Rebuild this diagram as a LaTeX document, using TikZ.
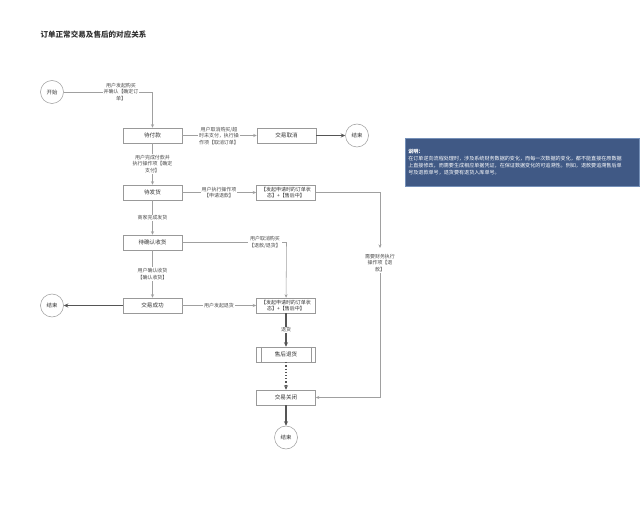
\documentclass[tikz,border=0pt]{standalone}
\usepackage{fontspec}
\newfontfamily\cjk{Noto Sans CJK SC}
\usetikzlibrary{arrows.meta}
\definecolor{linegray}{HTML}{A0A0A0}
\definecolor{darkline}{HTML}{555555}
\definecolor{boxline}{HTML}{999999}
\definecolor{txt}{HTML}{333333}
\definecolor{lbltxt}{HTML}{4A4A4A}
\definecolor{notebg}{HTML}{405985}
\definecolor{noteborder}{HTML}{7590B8}
\begin{document}
\begin{tikzpicture}[x=1bp,y=-1bp,
  every node/.style={font=\cjk, text=txt},
  box/.style={draw=boxline, line width=0.5bp, fill=white, minimum width=59bp, minimum height=15bp, inner sep=0.5bp, align=center, font=\cjk\fontsize{5.6}{6.5}\selectfont},
  sbox/.style={box, font=\cjk\fontsize{5}{6.2}\selectfont},
  circ/.style={draw=boxline, line width=0.5bp, circle, minimum size=23bp, inner sep=0pt, fill=white, font=\cjk\fontsize{5.4}{6}\selectfont},
  lbl/.style={fill=white, inner sep=1bp, align=center, text=lbltxt, font=\cjk\fontsize{5}{6.5}\selectfont},
  thin/.style={draw=linegray, line width=0.55bp, -{Stealth[length=3.5bp,width=3bp]}},
  thick/.style={draw=darkline, line width=1.2bp, -{Stealth[length=4.5bp,width=4bp]}},
  note/.style={draw=noteborder, line width=0.6bp, fill=notebg, inner sep=3bp, align=left, text=white, font=\cjk\fontsize{5.1}{7.2}\selectfont}
]
\useasboundingbox (0,0) rectangle (640,515);
\fill[white] (0,0) rectangle (640,515);

% title
\node[anchor=west, font=\cjk\bfseries\fontsize{7.6}{9}\selectfont, text=txt] (title) at (37,35) {订单正常交易及售后的对应关系};

% nodes
\node[circ] (start) at (52,92) {开始};
\node[box] (dfk) at (152.5,135.5) {待付款};
\node[box] (jyqx) at (286.5,135.5) {交易取消};
\node[circ] (end1) at (357,135.5) {结束};
\node[box] (dfh) at (152.5,192.5) {待发货};
\node[sbox] (sh1) at (286,192.5) {【发起申请时的订单状\\态】+【售后中】};
\node[box] (dqr) at (152.5,242.5) {待确认收货};
\node[box] (jycg) at (152.5,305.5) {交易成功};
\node[circ] (end2) at (52,305.5) {结束};
\node[sbox] (sh2) at (286,305.5) {【发起申请时的订单状\\态】+【售后中】};
\node[box] (shth) at (286,354.5) {售后退货};
\draw[boxline, line width=0.5bp] ([xshift=5bp]shth.north west) -- ([xshift=5bp]shth.south west)
  ([xshift=-5bp]shth.north east) -- ([xshift=-5bp]shth.south east);
\node[box] (jygb) at (286,397.5) {交易关闭};
\node[circ] (end3) at (286,437.5) {结束};

\coordinate (c1) at (152.5,92);
\coordinate (c2) at (380,192.5);
\coordinate (c3) at (380,248);
\coordinate (c4) at (286.5,242.5);

% connectors
\draw[thin] (start) -- (c1) -- (dfk);
\node[lbl] (l1) at (121,92) {用户发起购买\\并确认【确定订\\单】};

\draw[thin] (dfk) -- (jyqx);
\node[lbl] (l2) at (219,136) {用户取消购买/超\\时未支付，执行操\\作项【取消订单】};
\draw[thick] (jyqx) -- (end1);

\draw[thin] (dfk) -- (dfh);
\node[lbl] (l3) at (152.5,164) {用户完成付款并\\执行操作项【确定\\支付】};

\draw[thin] (dfh) -- (sh1);
\node[lbl] (l4) at (219,192.5) {用户执行操作项\\【申请退款】};

\draw[thin] (sh1) -- (c2) -- (c3);
\node[lbl] (l5) at (380,263) {需要财务执行\\操作项【退\\款】};
\draw[thin] (l5.south) |- (jygb.east);

\draw[thin] (dfh) -- (dqr);
\node[lbl] (l6) at (152.5,218) {商家完成发货};

\draw[thin] (dqr) -- (c4) -- (sh2);
\node[lbl] (l7) at (265,242.5) {用户取消购买\\【退款/退货】};

\draw[thin] (dqr) -- (jycg);
\node[lbl] (l8) at (152.5,274) {用户确认收货\\【确认收货】};

\draw[thick] (jycg) -- (end2);
\draw[thin] (jycg) -- (sh2);
\node[lbl] (l9) at (219,305.5) {用户发起退货};

\draw[thick] (sh2) -- (shth);
\node[lbl] (l10) at (286,330) {退货};

\draw[thick, dotted] (shth) -- (jygb);
\draw[thick] (jygb) -- (end3);

% note
\node[note, anchor=north west, minimum width=234bp, minimum height=48bp, text width=228bp] (notebox) at (405,138) {\textbf{说明：}\\在订单逆向流程处理时，涉及系统财务数据的变化，而每一次数据的变化，都不能直接在原数据\\上直接修改，而需要生成相应单据凭证，在保证数据变化的可追溯性。例如，退款要追溯售后单\\号及退款单号，退货要有退货入库单号。};
\end{tikzpicture}
\end{document}
